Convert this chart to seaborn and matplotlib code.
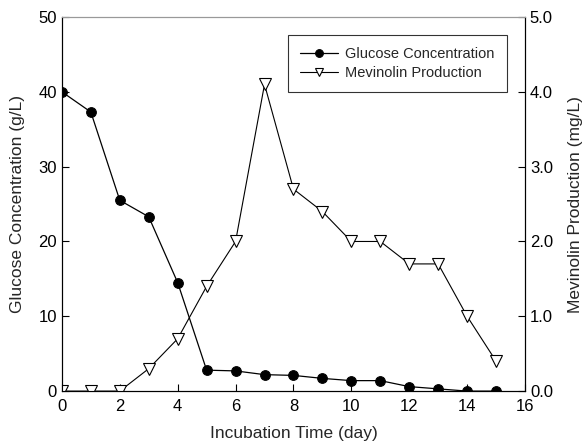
import matplotlib
matplotlib.use("Agg")
import matplotlib.pyplot as plt
import seaborn as sns
import pandas as pd

days = [0, 1, 2, 3, 4, 5, 6, 7, 8, 9, 10, 11, 12, 13, 14, 15]
glucose = [40.0, 37.3, 25.5, 23.3, 14.5, 2.8, 2.7, 2.2, 2.1, 1.7, 1.4, 1.4, 0.6, 0.3, 0.0, 0.0]
mevinolin = [0.0, 0.0, 0.0, 0.3, 0.7, 1.4, 2.0, 4.1, 2.7, 2.4, 2.0, 2.0, 1.7, 1.7, 1.0, 0.4]
left_ticks = [0, 10, 20, 30, 40, 50]
right_ticks = [0.0, 1.0, 2.0, 3.0, 4.0, 5.0]
x_ticks = [0, 2, 4, 6, 8, 10, 12, 14, 16]

sns.set_style("ticks")
plt.rcParams['font.family'] = ['Liberation Sans', 'DejaVu Sans']

df = pd.DataFrame({"day": days, "glucose": glucose, "mevinolin": mevinolin})

fig = plt.figure(figsize=(5.84, 4.48), dpi=100)
ax = fig.add_axes([0.106, 0.127, 0.793, 0.835])
ax2 = ax.twinx()

sns.lineplot(data=df, x="day", y="glucose", ax=ax, color="black", lw=0.9,
             marker="o", markersize=7, markeredgecolor="black", markerfacecolor="black",
             label="Glucose Concentration", legend=False)
sns.lineplot(data=df, x="day", y="mevinolin", ax=ax2, color="black", lw=0.8,
             marker="v", markersize=8, markeredgecolor="black", markerfacecolor="white",
             markeredgewidth=0.8, label="Mevinolin Production", legend=False)

ax.set_xlim(0, 16)
ax.set_ylim(0, 50)
ax2.set_ylim(0, 5)
ax.set_xticks(x_ticks)
ax.set_yticks(left_ticks)
ax2.set_yticks(right_ticks)
ax2.set_yticklabels([f"{v:.1f}" for v in right_ticks])

for a in (ax, ax2):
    a.tick_params(direction="in", length=5, width=0.8, labelsize=12, colors="black")
ax.tick_params(axis="x", pad=6)
for s in ["left", "bottom", "right"]:
    ax2.spines[s].set_color("black")
    ax.spines[s].set_color("black")
ax.spines["top"].set_color("#999999")
ax2.spines["top"].set_color("#999999")
ax.spines["top"].set_linewidth(0.8)
ax2.spines["top"].set_linewidth(0.8)

ax.set_xlabel("Incubation Time (day)", fontsize=12.5, labelpad=8)
ax.set_ylabel("Glucose Concentration (g/L)", fontsize=12.5, labelpad=10)
ax2.set_ylabel("Mevinolin Production (mg/L)", fontsize=12.5, labelpad=11)

h1, l1 = ax.get_legend_handles_labels()
h2, l2 = ax2.get_legend_handles_labels()
leg = ax2.legend(h1 + h2, l1 + l2, loc="upper right", bbox_to_anchor=(0.961, 0.952),
                 borderaxespad=0, fontsize=10.5, frameon=True, fancybox=False,
                 edgecolor="black", handlelength=2.6, handletextpad=0.5,
                 borderpad=0.85, labelspacing=0.3, markerscale=0.8)
leg.get_frame().set_linewidth(0.8)

fig.savefig("out.png", dpi=100)
